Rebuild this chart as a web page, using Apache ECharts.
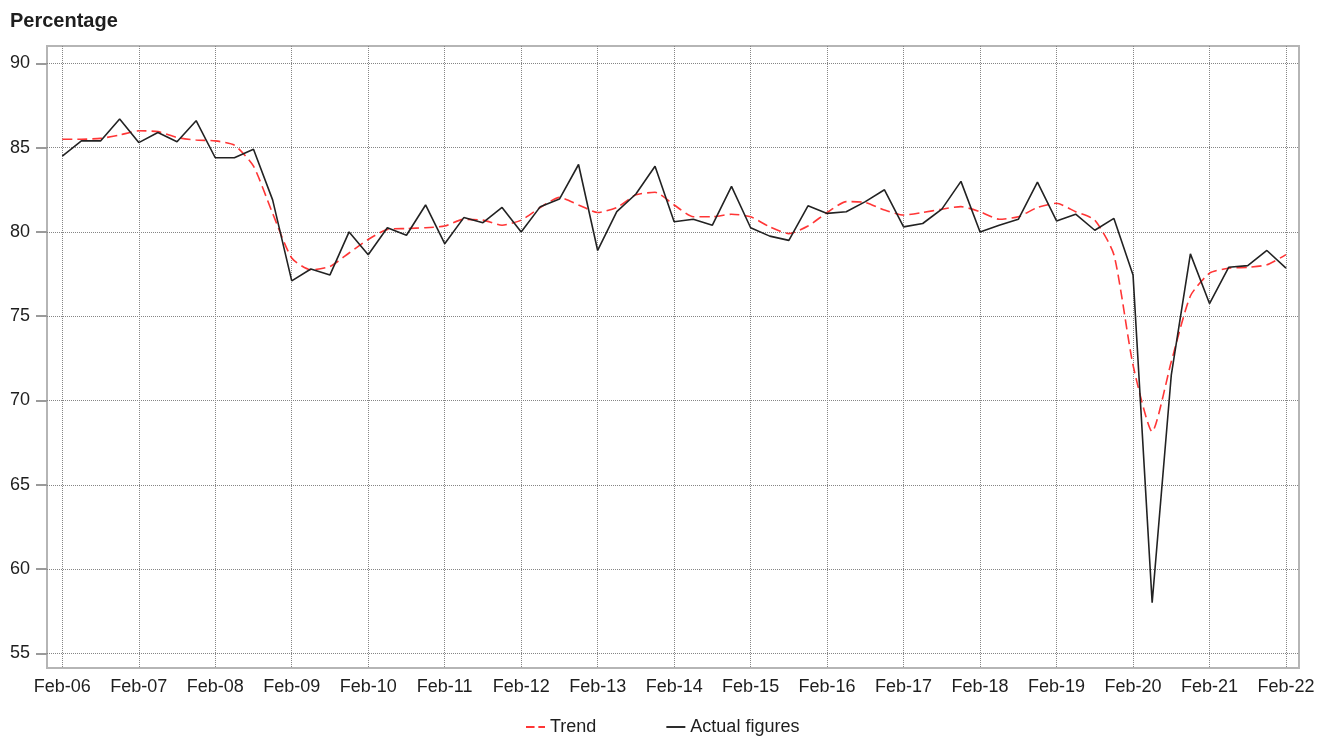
<!DOCTYPE html>
<html>
<head>
<meta charset="utf-8">
<title>Percentage</title>
<script src="https://cdn.jsdelivr.net/npm/echarts@6/dist/echarts.min.js"></script>
<style>
  html, body { margin: 0; padding: 0; background: #fff; }
  #chart { width: 1325px; height: 738px; }
</style>
</head>
<body>
<div id="chart"></div>
<script>
// quarterly points, Feb-06 .. Feb-22
const xLabels = ["Feb-06", "Feb-07", "Feb-08", "Feb-09", "Feb-10", "Feb-11", "Feb-12", "Feb-13",
  "Feb-14", "Feb-15", "Feb-16", "Feb-17", "Feb-18", "Feb-19", "Feb-20", "Feb-21", "Feb-22"];
const yTicks = [55, 60, 65, 70, 75, 80, 85, 90];

const trend = [85.5, 85.5, 85.55, 85.75, 86.0, 85.95, 85.6, 85.45, 85.4, 85.15, 83.9, 81.1,
  78.45, 77.75, 77.95, 78.75, 79.55, 80.15, 80.2, 80.25, 80.35, 80.75, 80.7, 80.4,
  80.7, 81.45, 82.05, 81.6, 81.15, 81.45, 82.2, 82.35, 81.6, 80.9, 80.9, 81.05,
  80.9, 80.3, 79.9, 80.35, 81.15, 81.8, 81.75, 81.3, 81.0, 81.15, 81.35, 81.5,
  81.2, 80.75, 80.9, 81.45, 81.7, 81.2, 80.7, 78.65, 72.1, 68.15, 72.3, 76.2,
  77.55, 77.85, 77.9, 78.05, 78.65];

const actual = [84.5, 85.4, 85.4, 86.7, 85.3, 85.9, 85.35, 86.6, 84.4, 84.4, 84.9, 81.9,
  77.1, 77.8, 77.45, 80.0, 78.65, 80.25, 79.8, 81.6, 79.3, 80.85, 80.55, 81.45,
  80.0, 81.5, 81.95, 84.0, 78.9, 81.2, 82.25, 83.9, 80.6, 80.75, 80.4, 82.7,
  80.25, 79.75, 79.5, 81.55, 81.1, 81.2, 81.8, 82.5, 80.3, 80.5, 81.35, 83.0,
  80.0, 80.4, 80.75, 82.95, 80.65, 81.05, 80.1, 80.8, 77.45, 58.0, 71.5, 78.7,
  75.75, 77.9, 78.0, 78.9, 77.85];

const FONT = "Liberation Sans, Arial, sans-serif";
const TEXT_COLOR = "#1e1e1e";
const RED = "#ff3636";
const gridLine = { color: "#858585", width: 1, type: [1, 1] };

// one label per year = every 4th quarter
const xTickPos = xLabels.map((_, i) => i * 4);
const toPairs = (values) => values.map((v, i) => [i, v]);

const chart = echarts.init(document.getElementById("chart"));

chart.setOption({
  animation: false,
  backgroundColor: "#fff",
  title: {
    text: "Percentage",
    left: 5,
    top: 6,
    textStyle: { fontFamily: FONT, fontSize: 20, fontWeight: "bold", color: TEXT_COLOR },
  },
  legend: {
    data: [
      { name: "Trend", icon: "path://M0,0h9v2h-9z M13,0h7v2h-7z", itemStyle: { color: RED } },
      { name: "Actual figures", icon: "path://M0,0h20v2h-20z", itemStyle: { color: "#222" } },
    ],
    left: 521,
    top: 713,
    itemWidth: 19,
    itemHeight: 2,
    itemGap: 70,
    textStyle: { fontFamily: FONT, fontSize: 18, color: TEXT_COLOR },
  },
  grid: {
    left: 47,
    right: 26,
    top: 46,
    bottom: 70,
    show: true,
    borderColor: "#b5b5b5",
    borderWidth: 2,
  },
  xAxis: {
    type: "value",
    min: -0.8,
    max: 64.68,
    axisLine: { show: false, onZero: false },
    axisTick: { show: false, customValues: xTickPos },
    axisLabel: {
      customValues: xTickPos,
      formatter: (v) => xLabels[Math.round(v / 4)] || "",
      fontFamily: FONT,
      fontSize: 18,
      color: TEXT_COLOR,
      margin: 10,
    },
    splitLine: { show: true, lineStyle: gridLine },
  },
  yAxis: {
    type: "value",
    min: 54.13,
    max: 91.03,
    axisLine: { show: false, onZero: false },
    axisTick: {
      show: true,
      length: 11,
      customValues: yTicks,
      lineStyle: { color: "#9a9a9a", width: 2 },
    },
    axisLabel: {
      customValues: yTicks,
      fontFamily: FONT,
      fontSize: 18,
      color: TEXT_COLOR,
      margin: 17,
    },
    splitLine: { show: true, lineStyle: gridLine },
  },
  series: [
    {
      name: "Trend",
      type: "line",
      data: toPairs(trend),
      symbol: "none",
      smooth: 0.2,
      lineStyle: { color: RED, width: 1.6, type: [10, 5] },
      itemStyle: { color: RED },
    },
    {
      name: "Actual figures",
      type: "line",
      data: toPairs(actual),
      symbol: "none",
      lineStyle: { color: "#222", width: 1.6 },
      itemStyle: { color: "#222" },
    },
  ],
});

window.addEventListener("resize", () => chart.resize());
</script>
</body>
</html>
